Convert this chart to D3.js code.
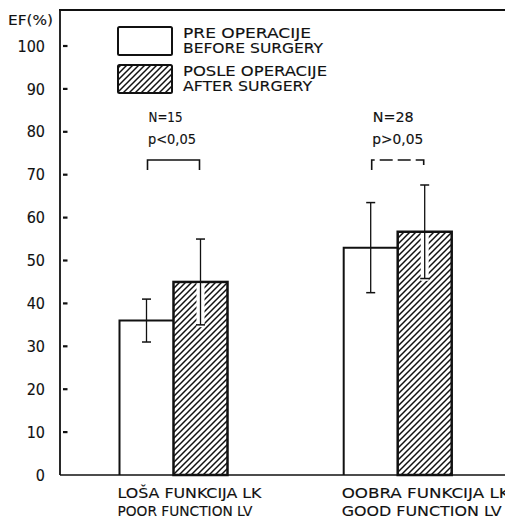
<!DOCTYPE html>
<html>
<head>
<meta charset="utf-8">
<script src="https://cdn.jsdelivr.net/npm/d3@7"></script>
<style>
  html, body { margin: 0; padding: 0; background: #fff; }
  svg { display: block; }
  text { font-family: "DejaVu Sans Condensed", "DejaVu Sans", sans-serif; fill: #111; stroke: #111; stroke-width: 0.12; }
</style>
</head>
<body>
<svg id="chart" width="505" height="517"></svg>
<script>
// Ejection fraction before / after surgery, by left-ventricle function group
const categories = ["poor", "good"];
const categoryLine1 = ["LOŠA FUNKCIJA LK", "OOBRA FUNKCIJA LK"];
const categoryLine2 = ["POOR  FUNCTION LV", "GOOD  FUNCTION  LV"];
const series = ["before", "after"];
const beforeMean = [36, 53];
const beforeSD = [5, 10.5];
const afterMean = [45, 56.7];
const afterSD = [10, 10.9];
const nLabels = ["N=15", "N=28"];
const pLabels = ["p<0,05", "p>0,05"];
const significant = [true, false];
const yTicks = [0, 10, 20, 30, 40, 50, 60, 70, 80, 90, 100];
const legendLine1 = ["PRE  OPERACIJE", "POSLE  OPERACIJE"];
const legendLine2 = ["BEFORE SURGERY", "AFTER SURGERY"];

const svg = d3.select("#chart");
const ink = "#111";

const y = d3.scaleLinear().domain([0, 100]).range([475, 46]);
const xGroup = d3.scalePoint().domain(categories).range([173.5, 397.7]);
const xSeries = d3.scaleBand().domain(series).range([-54, 54]);
const barW = xSeries.bandwidth();

// diagonal hatching
const defs = svg.append("defs");
const pat = defs.append("pattern")
  .attr("id", "hatch").attr("patternUnits", "userSpaceOnUse")
  .attr("width", 6).attr("height", 6);
pat.append("path")
  .attr("d", "M-1,1 l2,-2 M0,6 l6,-6 M5,7 l2,-2")
  .attr("stroke", ink).attr("stroke-width", 1.5);

// frame: left axis, top rule and baseline
svg.append("line").attr("x1", 60).attr("x2", 60).attr("y1", 10).attr("y2", y(0))
  .attr("stroke", ink).attr("stroke-width", 1.8);
svg.append("line").attr("x1", 59).attr("x2", 505).attr("y1", 10).attr("y2", 10)
  .attr("stroke", ink).attr("stroke-width", 1.8);
svg.append("line").attr("x1", 60).attr("x2", 505).attr("y1", y(0)).attr("y2", y(0))
  .attr("stroke", ink).attr("stroke-width", 1.5);

// y axis labels
const yAxis = d3.axisLeft(y).tickValues(yTicks).tickSize(0).tickPadding(15)
  .tickFormat(d3.format("d"));
const gAxis = svg.append("g").attr("transform", "translate(60,0)").call(yAxis);
gAxis.select(".domain").remove();
gAxis.attr("font-family", null);
gAxis.selectAll("text").attr("font-size", 16);

// small tick dashes inside the axis
svg.append("g").selectAll("line")
  .data(yTicks.filter(d => d > 0))
  .join("line")
  .attr("x1", 63).attr("x2", 67.5)
  .attr("y1", d => y(d)).attr("y2", d => y(d))
  .attr("stroke", ink).attr("stroke-width", 2.2);

svg.append("text").attr("x", 8).attr("y", 25).attr("font-size", 14)
  .attr("textLength", 45).attr("lengthAdjust", "spacingAndGlyphs").text("EF(%)");

const nLen = [34, 41];
const pLen = [48, 51];

// bars
categories.forEach((c, i) => {
  const cx = xGroup(c);
  // before: open bar (left edge and top)
  const bx0 = cx + xSeries("before");
  const bx1 = bx0 + barW;
  const by = y(beforeMean[i]);
  svg.append("path")
    .attr("d", `M${bx0},${y(0)} V${by} H${bx1}`)
    .attr("fill", "none").attr("stroke", ink).attr("stroke-width", 2);

  // after: hatched bar
  const ax0 = cx + xSeries("after");
  const ay = y(afterMean[i]);
  svg.append("rect")
    .attr("x", ax0).attr("y", ay).attr("width", barW).attr("height", y(0) - ay)
    .attr("fill", "url(#hatch)").attr("stroke", ink).attr("stroke-width", 2.5);

  // error bars
  const errs = [
    { x: bx0 + barW / 2, m: beforeMean[i], s: beforeSD[i], hatched: false },
    { x: ax0 + barW / 2, m: afterMean[i], s: afterSD[i], hatched: true }
  ];
  errs.forEach(e => {
    const top = y(e.m + e.s), bot = y(e.m - e.s);
    if (e.hatched) {
      svg.append("rect")
        .attr("x", e.x - 4).attr("y", y(e.m) + 1.3)
        .attr("width", 8).attr("height", bot - y(e.m) + 1)
        .attr("fill", "#fff");
    }
    svg.append("line").attr("x1", e.x).attr("x2", e.x).attr("y1", top).attr("y2", bot)
      .attr("stroke", ink).attr("stroke-width", 1.3);
    [top, bot].forEach(yy => {
      svg.append("line").attr("x1", e.x - 4.5).attr("x2", e.x + 4.5).attr("y1", yy).attr("y2", yy)
        .attr("stroke", ink).attr("stroke-width", 1.5);
    });
  });

  // annotations: sample size, p value and bracket
  const lx = bx0 + barW / 2 + 2;
  svg.append("text").attr("x", lx).attr("y", 121.5).attr("font-size", 13.5)
    .attr("textLength", nLen[i]).attr("lengthAdjust", "spacingAndGlyphs").text(nLabels[i]);
  svg.append("text").attr("x", lx - 0.5).attr("y", 143.5).attr("font-size", 13.5)
    .attr("textLength", pLen[i]).attr("lengthAdjust", "spacingAndGlyphs").text(pLabels[i]);
  const brL = bx0 + barW / 2 + 1;
  const brR = ax0 + barW / 2 - 1;
  svg.append("path")
    .attr("d", `M${brL},170 V160 H${brR} V170`)
    .attr("fill", "none").attr("stroke", ink).attr("stroke-width", 1.6)
    .attr("stroke-dasharray", significant[i] ? null : "13,5");

  // category labels
  svg.append("text").attr("x", bx0 - 2).attr("y", 498).attr("font-size", 14.5)
    .attr("textLength", i === 0 ? 144 : 168).attr("lengthAdjust", "spacingAndGlyphs")
    .text(categoryLine1[i]);
  svg.append("text").attr("x", bx0 - 2).attr("y", 515.5).attr("font-size", 14.5)
    .attr("textLength", i === 0 ? 135 : 160).attr("lengthAdjust", "spacingAndGlyphs")
    .text(categoryLine2[i]);
});

// legend
const legend = svg.append("g");
const legendY = [27, 65];
const line1Len = [128, 144];
const line2Len = [140, 129];
series.forEach((s, i) => {
  legend.append("rect")
    .attr("x", 118).attr("y", legendY[i]).attr("width", 54).attr("height", 28).attr("rx", 1.5)
    .attr("fill", s === "after" ? "url(#hatch)" : "#fff")
    .attr("stroke", ink).attr("stroke-width", 2);
  legend.append("text").attr("x", 183).attr("y", legendY[i] + 10.5).attr("font-size", 14)
    .attr("textLength", line1Len[i]).attr("lengthAdjust", "spacingAndGlyphs").text(legendLine1[i]);
  legend.append("text").attr("x", 183).attr("y", legendY[i] + 26).attr("font-size", 14)
    .attr("textLength", line2Len[i]).attr("lengthAdjust", "spacingAndGlyphs").text(legendLine2[i]);
});
</script>
</body>
</html>
